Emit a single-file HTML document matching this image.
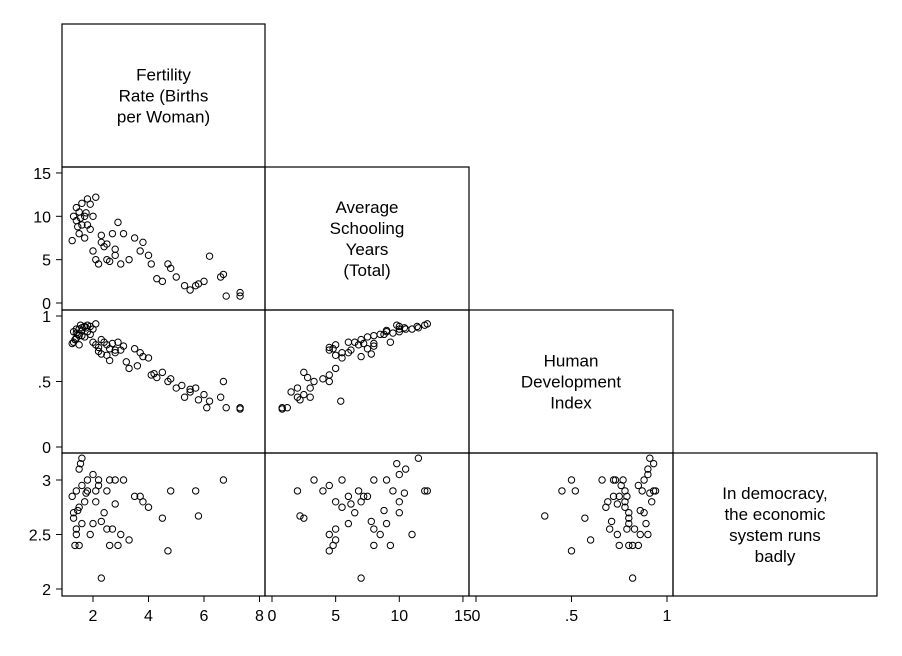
<!DOCTYPE html>
<html><head><meta charset="utf-8">
<style>
body{margin:0;background:#fff;}
svg{display:block;}
text{font-family:"Liberation Sans Narrow","Liberation Sans",sans-serif;fill:#000;}
</style></head>
<body>
<svg id="chart" width="902" height="656"></svg>
<script>
const fertility=[1.3,1.4,1.4,1.5,1.5,1.6,1.6,1.7,1.7,1.8,1.8,1.9,1.9,2.0,2.0,2.1,2.1,2.2,2.3,2.4,2.5,2.5,2.6,2.7,2.8,2.9,3.0,3.1,3.3,3.5,3.7,3.8,4.0,4.1,4.3,4.5,4.7,4.8,5.0,5.3,5.5,5.7,5.8,6.0,6.2,6.6,6.7,6.8,7.3,7.3,1.3,1.4,1.5,1.6,1.35,2.2,2.6,3.2,3.6,4.2,5.2,5.5,6.1,1.25,1.45,1.55,1.75,2.3,2.8];
const schooling=[10,11,9.5,10.5,8,9,11.5,7.5,10,12,9,8.5,11.4,10,6,12.2,5,4.5,7,6.5,5,6.8,4.8,8,5.5,9.3,4.5,8,5,7.5,6,7,5.5,4.5,2.8,2.5,4.5,4,3,2,1.5,2,2.2,2.5,5.4,3,3.3,0.8,1.2,0.8,null,null,null,null,null,null,null,null,null,null,null,null,null,7.2,8.8,9.8,10.4,7.8,6.2];
const hdi=[0.88,0.9,0.87,0.9,0.85,0.89,0.91,0.84,0.92,0.93,0.88,0.86,0.92,0.9,0.8,0.94,0.78,0.76,0.82,0.8,0.7,0.78,0.75,0.79,0.72,0.8,0.74,0.77,0.6,0.75,0.72,0.69,0.68,0.55,0.53,0.57,0.5,0.52,0.45,0.38,0.42,0.45,0.36,0.4,0.35,0.38,0.5,0.3,0.3,0.29,0.8,0.83,0.78,0.85,0.82,0.73,0.66,0.65,0.62,0.56,0.47,0.44,0.3,0.79,0.86,0.93,0.91,0.71,0.74];
const democracy=[2.7,2.5,2.9,3.1,2.4,2.6,3.2,null,2.8,2.9,3.0,2.5,null,3.05,2.6,2.9,2.8,2.95,2.1,2.7,2.55,2.9,2.4,2.55,3.0,2.4,2.5,3.0,2.45,2.85,2.85,2.8,2.75,null,null,2.65,2.35,2.9,null,null,null,2.9,2.67,null,null,null,3.0,null,null,null,2.65,2.55,2.75,2.95,2.4,3.0,3.0,null,null,null,null,null,null,2.85,2.72,3.15,2.88,2.62,2.78];
const varLabels=[["Fertility","Rate (Births","per Woman)"],["Average","Schooling","Years","(Total)"],["Human","Development","Index"],["In democracy,","the economic","system runs","badly"]];
const fertTicks=[2,4,6,8], schTicks=[0,5,10,15], hdiTicks=[0,0.5,1], hdiTickLabels=["0",".5","1"], demTicks=[2,2.5,3];
const fertYTicks=[0,5,10,15];
const svg=document.getElementById('chart');
const NS='http://www.w3.org/2000/svg';
function mk(t,a){const e=document.createElementNS(NS,t);for(const k in a)e.setAttribute(k,a[k]);svg.appendChild(e);return e;}
const colX=[62,265,469,673,877], rowY=[24,167,310,453,596];
// axis scales (pixel mapping)
const xs=[v=>93+(v-2)*27.75, v=>272+v*12.73, v=>476+v*191, null];
const ys=[null, v=>303-v*8.67, v=>447-v*131, v=>589-(v-2)*109];
const data=[fertility,schooling,hdi,democracy];
for(let r=0;r<4;r++){for(let c=0;c<=r;c++){
  const rc=mk('rect',{x:colX[c],y:rowY[r],width:colX[c+1]-colX[c],height:rowY[r+1]-rowY[r],fill:'none',stroke:'#000','stroke-width':1.2});
  
  
  if(r===c){
    const L=varLabels[r],cx=(colX[c]+colX[c+1])/2,cy=(rowY[r]+rowY[r+1])/2;
    L.forEach((s,i)=>{const t=mk('text',{x:cx,y:cy+(i-(L.length-1)/2)*21+6,'text-anchor':'middle','font-size':17});t.textContent=s;
      });
  } else {
    const X=data[c],Y=data[r];
    for(let i=0;i<X.length;i++){ if(X[i]==null||Y[i]==null)continue;
      const p=mk('circle',{cx:xs[c](X[i]),cy:ys[r](Y[i]),r:3.2,fill:'none',stroke:'#000','stroke-width':1});
      }
  }
}}
function ytick(r,vals,labels){vals.forEach((v,i)=>{const y=ys[r](v);mk('line',{x1:56,x2:62,y1:y,y2:y,stroke:'#000'});
  const t=mk('text',{x:51,y:y+6,'text-anchor':'end','font-size':16});t.textContent=labels?labels[i]:String(v);
  });}
ytick(1,fertYTicks);ytick(2,hdiTicks,hdiTickLabels);ytick(3,demTicks);
function xtick(c,vals,labels){vals.forEach((v,i)=>{const x=xs[c](v);mk('line',{x1:x,x2:x,y1:596,y2:602,stroke:'#000'});
  const t=mk('text',{x:x,y:621,'text-anchor':'middle','font-size':16});t.textContent=labels?labels[i]:String(v);
  });}
xtick(0,fertTicks);xtick(1,schTicks);xtick(2,hdiTicks,hdiTickLabels);
</script>
</body></html>
